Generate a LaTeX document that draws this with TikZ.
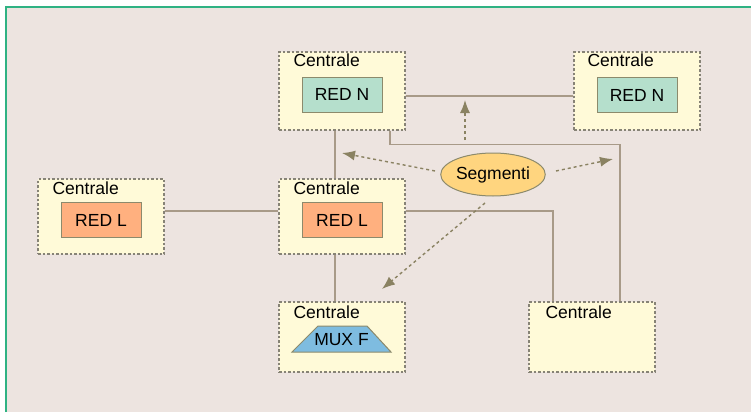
\documentclass[tikz,border=0pt]{standalone}
\usepackage{fontspec}
\setmainfont{Liberation Sans}
\usetikzlibrary{arrows.meta,shapes.geometric}

\definecolor{pagebg}{HTML}{EDE4E0}
\definecolor{framegreen}{HTML}{2FB283}
\definecolor{cream}{HTML}{FFFAD8}
\definecolor{boxline}{HTML}{878376}
\definecolor{innerline}{HTML}{8C8A6C}
\definecolor{mint}{HTML}{B5DFCC}
\definecolor{peach}{HTML}{FFB07F}
\definecolor{skyblue}{HTML}{7EBCE0}
\definecolor{amber}{HTML}{FFD57F}
\definecolor{linkc}{HTML}{A89A88}
\definecolor{arrowc}{HTML}{8A8262}

\begin{document}
\begin{tikzpicture}[x=1pt,y=-1pt,
  font=\fontsize{17.5}{20}\selectfont,
  centrale/.style={draw=boxline, fill=cream, dash pattern=on 2.5pt off 2pt,
    line width=1.2pt, minimum width=126pt, inner sep=0pt},
  unit/.style={draw=innerline, line width=1pt, minimum width=80pt,
    minimum height=35pt, inner sep=0pt},
  lbl/.style={anchor=base west, inner sep=0pt},
  link/.style={draw=linkc, line width=1.4pt},
  segarrow/.style={draw=arrowc, line width=1.4pt, dash pattern=on 3pt off 3pt,
    -{Latex[length=13pt,width=10pt]}}]

% page and frame
\useasboundingbox (0,0) rectangle (751,412);
\fill[white] (0,0) rectangle (751,412);
\fill[pagebg] (5,6) rectangle (751,412);
\draw[framegreen, line width=2pt] (6,412) -- (6,7) -- (751,7);

% exchanges
\node[centrale, minimum height=78pt] (cN)  at (342,91) {};
\node[centrale, minimum height=78pt] (cR)  at (637,91) {};
\node[centrale, minimum height=75pt] (cL)  at (101,216.5) {};
\node[centrale, minimum height=75pt] (cM)  at (342,216.5) {};
\node[centrale, minimum height=70pt] (cB)  at (342,337) {};
\node[centrale, minimum height=70pt] (cBR) at (592,337) {};

\node[lbl] (tN)  at ([shift={(15pt,-15pt)}]cN.north west) {Centrale};
\node[lbl] (tR)  at ([shift={(14pt,-15pt)}]cR.north west) {Centrale};
\node[lbl] (tL)  at ([shift={(15pt,-16pt)}]cL.north west) {Centrale};
\node[lbl] (tM)  at ([shift={(15pt,-16pt)}]cM.north west) {Centrale};
\node[lbl] (tB)  at ([shift={(15pt,-17pt)}]cB.north west) {Centrale};
\node[lbl] (tBR) at ([shift={(17pt,-17pt)}]cBR.north west) {Centrale};

% network units
\node[unit, fill=mint]  (nN) at (342,94.5) {RED N};
\node[unit, fill=mint]  (nR) at (637,95) {RED N};
\node[unit, fill=peach] (lL) at (101,220) {RED L};
\node[unit, fill=peach] (lM) at (342,220) {RED L};

% multiplexer: trapezoid with its label
\filldraw[draw=innerline, line width=1pt, fill=skyblue]
  (292,352) -- (318,326) -- (367,326) -- (391,352) -- cycle;
\node (mux) at (341.5,339.5) {MUX F};

% links between exchanges
\draw[link] ([yshift=-5pt]cN.east) -- ([yshift=-5pt]cR.west);
\draw[link] ([xshift=-7pt]cN.south) -- ([xshift=-7pt]cM.north);
\draw[link] ([xshift=48pt]cN.south) -- ++(0,14) -| ([xshift=28pt]cBR.north);
\draw[link] ([yshift=5.5pt]cL.east) -- ([yshift=5.5pt]cM.west);
\draw[link] ([yshift=5.5pt]cM.east) -| ([xshift=-39pt]cBR.north);
\draw[link] ([xshift=-7pt]cM.south) -- ([xshift=-7pt]cB.north);

% segments
\node[ellipse, draw=innerline, line width=1pt, fill=amber,
  minimum width=100pt, minimum height=43pt, inner sep=0pt] (seg) at (493,174.5) {Segmenti};

\coordinate (upS) at (465,140);   \coordinate (upT) at (465,100);
\coordinate (lfS) at (435,171);   \coordinate (lfT) at (342,153);
\coordinate (rtS) at (556,171);   \coordinate (rtT) at (613,159);
\coordinate (dnS) at (485,203);   \coordinate (dnT) at (382,289);

\draw[segarrow] (upS) -- (upT);
\draw[segarrow] (lfS) -- (lfT);
\draw[segarrow] (rtS) -- (rtT);
\draw[segarrow] (dnS) -- (dnT);
\end{tikzpicture}
\end{document}
